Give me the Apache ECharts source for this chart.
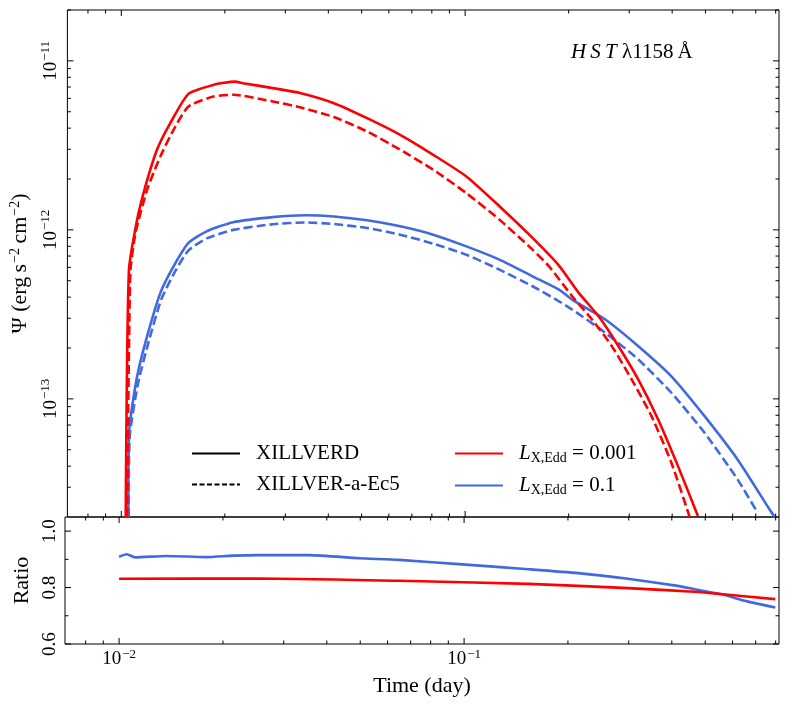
<!DOCTYPE html>
<html>
<head>
<meta charset="utf-8">
<title>HST 1158</title>
<script src="https://cdn.jsdelivr.net/npm/echarts@6/dist/echarts.min.js"></script>
<style>
html, body { margin: 0; padding: 0; background: #fff; }
#chart { width: 789px; height: 708px; }
</style>
</head>
<body>
<div id="chart"></div>
<script>
// 上图: 通量曲线 (时间 day, Psi erg s^-2 cm^-2)
const tRedSolid = [0.01030, 0.01052, 0.01112, 0.01175, 0.01270, 0.01388, 0.01568, 0.01852, 0.02137, 0.02260, 0.02759, 0.03330, 0.04154, 0.05186, 0.06471, 0.08075, 0.1008, 0.1258, 0.1570, 0.1874, 0.2140, 0.2444, 0.2792, 0.3189, 0.3641, 0.4159, 0.4752];
const psiRedSolid = [2.0e-14, 5.7e-13, 1.15e-12, 1.81e-12, 2.98e-12, 4.28e-12, 6.38e-12, 7.21e-12, 7.54e-12, 7.38e-12, 6.90e-12, 6.44e-12, 5.62e-12, 4.58e-12, 3.65e-12, 2.78e-12, 2.07e-12, 1.38e-12, 8.96e-13, 6.15e-13, 4.24e-13, 3.08e-13, 2.05e-13, 1.30e-13, 7.55e-14, 4.00e-14, 2.03e-14];

const tRedDash = [0.01040, 0.01062, 0.01100, 0.01189, 0.01299, 0.01419, 0.01568, 0.01852, 0.02115, 0.02759, 0.03330, 0.04154, 0.05186, 0.06471, 0.08075, 0.1008, 0.1258, 0.1570, 0.1754, 0.2047, 0.2338, 0.2671, 0.3051, 0.3483, 0.3979, 0.4496];
const psiRedDash = [2.0e-14, 5.6e-13, 9.6e-13, 1.73e-12, 2.72e-12, 3.91e-12, 5.37e-12, 6.15e-12, 6.30e-12, 5.75e-12, 5.30e-12, 4.65e-12, 3.82e-12, 2.98e-12, 2.27e-12, 1.65e-12, 1.15e-12, 7.64e-13, 6.08e-13, 4.05e-13, 2.95e-13, 2.05e-13, 1.30e-13, 7.90e-14, 4.19e-14, 2.0e-14];

const tBlueSolid = [0.01048, 0.01055, 0.01112, 0.01189, 0.01299, 0.01419, 0.01568, 0.01771, 0.02115, 0.02759, 0.03442, 0.04154, 0.05186, 0.06471, 0.08075, 0.1008, 0.1258, 0.1570, 0.1874, 0.2047, 0.2556, 0.3189, 0.3979, 0.4969, 0.6197, 0.7733, 0.795];
const psiBlueSolid = [2.0e-14, 6.6e-14, 1.36e-13, 2.35e-13, 4.24e-13, 6.08e-13, 8.37e-13, 9.80e-13, 1.11e-12, 1.19e-12, 1.22e-12, 1.20e-12, 1.14e-12, 1.05e-12, 9.37e-13, 7.99e-13, 6.67e-13, 5.31e-13, 4.43e-13, 3.87e-13, 2.95e-13, 2.05e-13, 1.36e-13, 7.90e-14, 4.38e-14, 2.17e-14, 2.0e-14];

const tBlueDash = [0.01050, 0.01058, 0.01120, 0.01199, 0.01305, 0.01425, 0.01568, 0.01771, 0.02115, 0.02759, 0.03442, 0.04154, 0.05186, 0.06471, 0.08075, 0.1008, 0.1258, 0.1570, 0.1874, 0.2047, 0.2556, 0.3189, 0.3979, 0.4969, 0.6197, 0.7078];
const psiBlueDash = [2.0e-14, 6.0e-14, 1.25e-13, 2.15e-13, 3.85e-13, 5.55e-13, 7.56e-13, 8.9e-13, 1.00e-12, 1.08e-12, 1.107e-12, 1.083e-12, 1.026e-12, 9.37e-13, 8.29e-13, 7.13e-13, 5.82e-13, 4.64e-13, 3.78e-13, 3.38e-13, 2.46e-13, 1.71e-13, 1.087e-13, 6.30e-14, 3.34e-14, 2.13e-14];

// 下图: Ratio
const tRatioBlue = [0.0100, 0.01052, 0.01112, 0.01373, 0.01791, 0.02137, 0.02552, 0.03557, 0.04961, 0.06471, 0.09641, 0.1535, 0.2140, 0.2984, 0.4159, 0.4658, 0.5535, 0.6624, 0.798];
const ratioBlue = [0.909, 0.918, 0.907, 0.912, 0.908, 0.913, 0.915, 0.915, 0.904, 0.898, 0.883, 0.865, 0.851, 0.831, 0.806, 0.794, 0.777, 0.751, 0.729];
const tRatioRed = [0.0100, 0.02552, 0.06471, 0.1535, 0.2984, 0.4658, 0.5535, 0.798];
const ratioRed = [0.831, 0.832, 0.824, 0.813, 0.798, 0.785, 0.777, 0.759];

// 刻度
const xMajorTicks = [0.01, 0.1];
const xMinorTicks = [0.008, 0.009, 0.02, 0.03, 0.04, 0.05, 0.06, 0.07, 0.08, 0.09, 0.2, 0.3, 0.4, 0.5, 0.6, 0.7, 0.8];
const yMajorTop = [1e-13, 1e-12, 1e-11];
const yMinorTop = [3e-14, 4e-14, 5e-14, 6e-14, 7e-14, 8e-14, 9e-14,
  2e-13, 3e-13, 4e-13, 5e-13, 6e-13, 7e-13, 8e-13, 9e-13,
  2e-12, 3e-12, 4e-12, 5e-12, 6e-12, 7e-12, 8e-12, 9e-12, 2e-11];
const yMajorRatio = [0.6, 0.8, 1.0];
const yMinorRatio = [0.7, 0.9];

const RED = '#ff0000';
const BLUE = '#4169e1';
const FONT = 'Liberation Serif';

function pairs(a, b) {
  return a.map(function (v, i) { return [v, b[i]]; });
}

// 10^-n 标签
function powLabel(v) {
  const e = Math.log10(v);
  const r = Math.round(e);
  if (Math.abs(e - r) > 1e-6) return '';
  return '10{sup|' + (r < 0 ? '\u2212' : '') + Math.abs(r) + '}';
}

const supRich = {
  sup: { fontSize: 13, fontFamily: FONT, color: '#000', padding: [0, 0, 10, 1] }
};

// 刻度线 (内侧, 两边)
function tickSeries(gridIdx, dim, values, len, anchor) {
  return {
    type: 'custom',
    xAxisIndex: gridIdx,
    yAxisIndex: gridIdx,
    silent: true,
    z: 5,
    clip: false,
    data: values.map(function (v) { return dim === 'x' ? [v, anchor] : [anchor, v]; }),
    renderItem: function (params, api) {
      const cs = params.coordSys;
      const p = api.coord([api.value(0), api.value(1)]);
      const st = { stroke: '#000', lineWidth: 1 };
      if (dim === 'x') {
        return { type: 'group', children: [
          { type: 'line', shape: { x1: p[0], y1: cs.y + cs.height, x2: p[0], y2: cs.y + cs.height - len }, style: st },
          { type: 'line', shape: { x1: p[0], y1: cs.y, x2: p[0], y2: cs.y + len }, style: st }
        ] };
      }
      return { type: 'group', children: [
        { type: 'line', shape: { x1: cs.x, y1: p[1], x2: cs.x + len, y2: p[1] }, style: st },
        { type: 'line', shape: { x1: cs.x + cs.width, y1: p[1], x2: cs.x + cs.width - len, y2: p[1] }, style: st }
      ] };
    }
  };
}

function curve(name, ts, vs, color, dashed, axisIdx) {
  return {
    name: name,
    type: 'line',
    xAxisIndex: axisIdx,
    yAxisIndex: axisIdx,
    data: pairs(ts, vs),
    symbol: 'none',
    smooth: 0.2,
    silent: true,
    lineStyle: { color: color, width: 2.6, type: dashed ? [9, 4] : 'solid' },
    itemStyle: { color: color }
  };
}

function legendDummy(name, color, dashed) {
  return {
    name: name,
    type: 'line',
    xAxisIndex: 0,
    yAxisIndex: 0,
    data: [],
    symbol: 'none',
    lineStyle: { color: color, width: 2, type: dashed ? [5, 2.5] : 'solid' },
    itemStyle: { color: color }
  };
}

const X_MIN = 0.00697, X_MAX = 0.818;

let chart = echarts.init(document.getElementById('chart'), null, { renderer: 'canvas' });

const legendText = { fontSize: 21, fontFamily: FONT, color: '#000', padding: [0, 0, 0, 11] };

let option = {
  animation: false,
  backgroundColor: '#fff',
  textStyle: { fontFamily: FONT, color: '#000' },
  grid: [
    { left: 65, top: 10, width: 714, height: 507, show: true, borderColor: '#000', borderWidth: 1, backgroundColor: 'transparent' },
    { left: 65, top: 517, width: 714, height: 127, show: true, borderColor: '#000', borderWidth: 1, backgroundColor: 'transparent' }
  ],
  xAxis: [
    {
      type: 'log', logBase: 10, gridIndex: 0, min: X_MIN, max: X_MAX,
      axisLine: { show: false }, axisTick: { show: false }, axisLabel: { show: false }, splitLine: { show: false }
    },
    {
      type: 'log', logBase: 10, gridIndex: 1, min: X_MIN, max: X_MAX,
      axisLine: { show: false }, axisTick: { show: false }, splitLine: { show: false },
      axisLabel: { show: true, margin: 4, formatter: powLabel, fontSize: 19, fontFamily: FONT, color: '#000', rich: supRich },
      name: 'Time (day)', nameLocation: 'middle', nameGap: 31,
      nameTextStyle: { fontSize: 22, fontFamily: FONT, color: '#000' }
    }
  ],
  yAxis: [
    {
      type: 'log', logBase: 10, gridIndex: 0, min: 2.0e-14, max: 2.0e-11,
      axisLine: { show: false }, axisTick: { show: false }, splitLine: { show: false },
      axisLabel: { show: true, rotate: 90, margin: 5, formatter: powLabel, fontSize: 19, fontFamily: FONT, color: '#000', rich: supRich },
      name: '\u03A8 (erg\u2009s{sup|\u22122}\u2009cm{sup|\u22122})', nameLocation: 'middle', nameGap: 27, nameRotate: 90,
      nameTextStyle: { fontSize: 22, fontFamily: FONT, color: '#000',
        rich: { sup: { fontSize: 14, fontFamily: FONT, color: '#000', padding: [0, 0, 11, 1] } } }
    },
    {
      type: 'value', gridIndex: 1, min: 0.6, max: 1.05, interval: 0.2,
      axisLine: { show: false }, axisTick: { show: false }, splitLine: { show: false },
      axisLabel: {
        show: true, rotate: 90, margin: 5, fontSize: 19, fontFamily: FONT, color: '#000',
        formatter: function (v) {
          for (let i = 0; i < yMajorRatio.length; i++) {
            if (Math.abs(v - yMajorRatio[i]) < 1e-6) return yMajorRatio[i].toFixed(1);
          }
          return '';
        }
      },
      name: 'Ratio', nameLocation: 'middle', nameGap: 29, nameRotate: 90,
      nameTextStyle: { fontSize: 22, fontFamily: FONT, color: '#000' }
    }
  ],
  legend: [
    {
      data: ['XILLVERD', 'XILLVER-a-Ec5'],
      left: 186, top: 438, orient: 'vertical',
      itemWidth: 48, itemHeight: 14, itemGap: 10,
      selectedMode: false,
      itemStyle: { opacity: 0 },
      textStyle: legendText
    },
    {
      data: ['Ledd1', 'Ledd2'],
      left: 449, top: 438, orient: 'vertical',
      itemWidth: 48, itemHeight: 14, itemGap: 10,
      selectedMode: false,
      itemStyle: { opacity: 0 },
      formatter: function (name) {
        return name === 'Ledd1' ? '{it|L}{sub|X,Edd} = 0.001' : '{it|L}{sub|X,Edd} = 0.1';
      },
      textStyle: Object.assign({}, legendText, {
        rich: {
          it: { fontSize: 21, fontFamily: FONT, fontStyle: 'italic', color: '#000' },
          sub: { fontSize: 14, fontFamily: FONT, color: '#000', padding: [9, 0, 0, 0] }
        }
      })
    }
  ],
  graphic: [
    {
      type: 'text', left: 571, top: 42, silent: true,
      style: {
        text: '{it|H\u2009S\u2009T} \u03bb1158\u2009\u00c5',
        fontSize: 21, fontFamily: FONT, fill: '#000',
        rich: { it: { fontSize: 21, fontFamily: FONT, fontStyle: 'italic', fill: '#000' } }
      }
    }
  ],
  series: [
    curve('blueSolid', tBlueSolid, psiBlueSolid, BLUE, false, 0),
    curve('blueDash', tBlueDash, psiBlueDash, BLUE, true, 0),
    curve('redSolid', tRedSolid, psiRedSolid, RED, false, 0),
    curve('redDash', tRedDash, psiRedDash, RED, true, 0),
    curve('ratioBlue', tRatioBlue, ratioBlue, BLUE, false, 1),
    curve('ratioRed', tRatioRed, ratioRed, RED, false, 1),
    legendDummy('XILLVERD', '#000', false),
    legendDummy('XILLVER-a-Ec5', '#000', true),
    legendDummy('Ledd1', RED, false),
    legendDummy('Ledd2', BLUE, false),
    tickSeries(0, 'x', xMajorTicks, 6, 1e-12),
    tickSeries(0, 'x', xMinorTicks, 3.5, 1e-12),
    tickSeries(0, 'y', yMajorTop, 6, 0.05),
    tickSeries(0, 'y', yMinorTop, 3.5, 0.05),
    tickSeries(1, 'x', xMajorTicks, 6, 0.8),
    tickSeries(1, 'x', xMinorTicks, 3.5, 0.8),
    tickSeries(1, 'y', yMajorRatio, 6, 0.05),
    tickSeries(1, 'y', yMinorRatio, 3.5, 0.05)
  ]
};

chart.setOption(option);

window.onresize = function () {
  chart.resize();
};
</script>
</body>
</html>
